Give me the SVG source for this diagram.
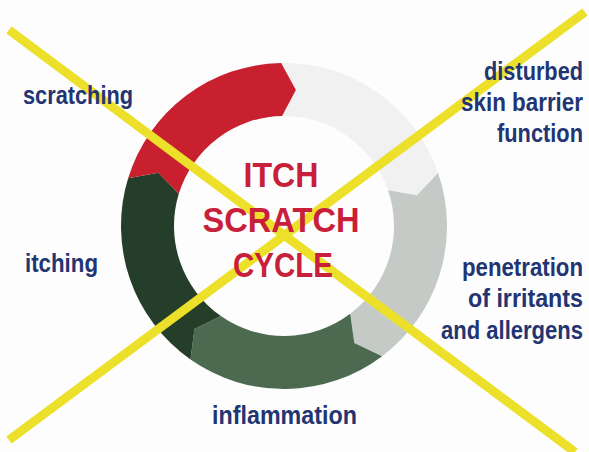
<svg xmlns="http://www.w3.org/2000/svg" width="589" height="452" viewBox="0 0 589 452">
<style>
.lbl{font-family:"Liberation Sans",Arial,sans-serif;font-weight:bold;font-size:25px;fill:#223572}
.ctr{font-family:"Liberation Sans",Arial,sans-serif;font-weight:bold;font-size:35px;fill:#c8203a;text-anchor:middle}
.x{stroke:#ece02a;stroke-width:9;stroke-linecap:butt;fill:none}
</style>
<rect width="589" height="452" fill="#fdfdfd"/>
<g id="ring">
<g id="seg-barrier"><path fill="#f0f1f0" d="M281.16,63.02 A163,163 0 0 1 438.12,172.93 L417.00,195.29 L388.01,190.19 A110,110 0 0 0 282.08,116.02 L295.90,90.02 Z"/></g>
<g id="seg-penetration"><path fill="#c5cac6" d="M438.12,172.93 A163,163 0 0 1 382.10,356.18 L354.30,343.00 L350.20,313.85 A110,110 0 0 0 388.01,190.19 L417.00,195.29 Z"/></g>
<g id="seg-inflammation"><path fill="#4b6a4f" d="M382.10,356.18 A163,163 0 0 1 190.51,359.52 L194.45,329.02 L220.91,316.11 A110,110 0 0 0 350.20,313.85 L354.30,343.00 Z"/></g>
<g id="seg-itching"><path fill="#253e29" d="M190.51,359.52 A163,163 0 0 1 128.12,178.34 L158.35,172.67 L178.81,193.84 A110,110 0 0 0 220.91,316.11 L194.45,329.02 Z"/></g>
<g id="seg-scratching"><path fill="#c8202e" d="M128.12,178.34 A163,163 0 0 1 281.16,63.02 L295.90,90.02 L282.08,116.02 A110,110 0 0 0 178.81,193.84 L158.35,172.67 Z"/></g>
</g>
<g id="cross">
<line class="x" x1="9" y1="30" x2="575" y2="452"/>
<line class="x" x1="585" y1="12" x2="9" y2="440"/>
</g>
<g id="center-title">
<text class="ctr" x="281" y="187" textLength="75" lengthAdjust="spacingAndGlyphs">ITCH</text>
<text class="ctr" x="281" y="232" textLength="157" lengthAdjust="spacingAndGlyphs">SCRATCH</text>
<text class="ctr" x="283" y="277" textLength="100" lengthAdjust="spacingAndGlyphs">CYCLE</text>
</g>
<g id="label-scratching"><text class="lbl" x="23" y="104" textLength="110" lengthAdjust="spacingAndGlyphs">scratching</text></g>
<g id="label-barrier">
<text class="lbl" x="583" y="80" text-anchor="end" textLength="99" lengthAdjust="spacingAndGlyphs">disturbed</text>
<text class="lbl" x="583" y="111" text-anchor="end" textLength="122" lengthAdjust="spacingAndGlyphs">skin barrier</text>
<text class="lbl" x="583" y="142" text-anchor="end" textLength="86" lengthAdjust="spacingAndGlyphs">function</text>
</g>
<g id="label-itching"><text class="lbl" x="25" y="272" textLength="73" lengthAdjust="spacingAndGlyphs">itching</text></g>
<g id="label-penetration">
<text class="lbl" x="583" y="276" text-anchor="end" textLength="121" lengthAdjust="spacingAndGlyphs">penetration</text>
<text class="lbl" x="583" y="307" text-anchor="end" textLength="115" lengthAdjust="spacingAndGlyphs">of irritants</text>
<text class="lbl" x="583" y="339" text-anchor="end" textLength="142" lengthAdjust="spacingAndGlyphs">and allergens</text>
</g>
<g id="label-inflammation"><text class="lbl" x="212" y="424" textLength="145" lengthAdjust="spacingAndGlyphs">inflammation</text></g>
</svg>
